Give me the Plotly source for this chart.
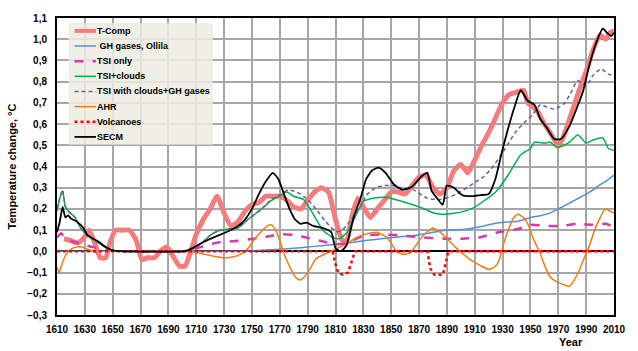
import plotly.graph_objects as go

# ---------------- data ----------------
TCOMP_YEARS = [1615, 1620, 1625, 1630, 1633, 1637, 1641, 1645, 1648, 1652, 1657, 1662, 1667, 1671, 1675,
               1680, 1684, 1689, 1694, 1698, 1702, 1706, 1710, 1715, 1720, 1725, 1730, 1735, 1740, 1745,
               1750, 1755, 1760, 1765, 1770, 1775, 1780, 1785, 1790, 1795, 1800, 1805, 1810, 1815, 1818,
               1822, 1826, 1830, 1835, 1840, 1845, 1850, 1855, 1860, 1865, 1870, 1875, 1880, 1885, 1890,
               1895, 1900, 1905, 1910, 1915, 1920, 1925, 1930, 1935, 1940, 1945, 1948, 1952, 1955, 1960,
               1965, 1970, 1973, 1980, 1985, 1990, 1995, 2000, 2004, 2007, 2010]
TCOMP_VALUES = [0.06, 0.05, 0.04, 0.07, 0.10, 0.04, -0.03, -0.03, 0.04, 0.10, 0.10, 0.10, 0.05, -0.04, -0.03,
                -0.03, 0.00, 0.02, -0.03, -0.07, -0.07, 0.00, 0.08, 0.15, 0.20, 0.26, 0.18, 0.12, 0.14, 0.19,
                0.22, 0.23, 0.26, 0.26, 0.26, 0.24, 0.21, 0.20, 0.24, 0.28, 0.30, 0.28, 0.15, 0.05, 0.05,
                0.17, 0.25, 0.21, 0.16, 0.20, 0.24, 0.28, 0.28, 0.27, 0.31, 0.35, 0.36, 0.30, 0.27, 0.30,
                0.38, 0.41, 0.37, 0.43, 0.50, 0.56, 0.63, 0.70, 0.74, 0.75, 0.76, 0.70, 0.68, 0.66, 0.60,
                0.55, 0.50, 0.53, 0.66, 0.76, 0.85, 0.95, 1.02, 1.00, 1.03, 1.04]

GH_YEARS = [1610, 1740, 1750, 1760, 1770, 1780, 1790, 1800, 1810, 1820, 1830, 1843, 1855, 1866, 1878, 1889,
            1901, 1913, 1927, 1941, 1950, 1957, 1964, 1970, 1976, 1983, 1990, 1995, 1999, 2005, 2010]
GH_VALUES = [0.0, 0.0, 0.002, 0.006, 0.01, 0.015, 0.02, 0.027, 0.033, 0.04, 0.05, 0.06, 0.068, 0.075, 0.087, 0.10,
             0.103, 0.115, 0.135, 0.142, 0.16, 0.168, 0.18, 0.20, 0.22, 0.245, 0.27, 0.29, 0.31, 0.335, 0.36]

TSI_YEARS = [1610, 1613, 1616, 1620, 1627, 1636, 1646, 1652, 1700, 1706, 1713, 1718, 1724, 1732, 1740, 1750,
             1757, 1765, 1771, 1780, 1789, 1799, 1808, 1813, 1819, 1825, 1831, 1843, 1857, 1873, 1889, 1901,
             1913, 1927, 1941, 1950, 1957, 1964, 1973, 1983, 1994, 2004, 2010]
TSI_VALUES = [0.065, 0.085, 0.06, 0.05, 0.035, 0.02, 0.008, 0.002, 0.0, 0.005, 0.02, 0.028, 0.04, 0.045, 0.05, 0.058,
              0.065, 0.075, 0.08, 0.078, 0.065, 0.05, 0.035, 0.033, 0.04, 0.06, 0.075, 0.08, 0.075, 0.065, 0.06, 0.06,
              0.065, 0.09, 0.105, 0.125, 0.123, 0.12, 0.12, 0.13, 0.125, 0.13, 0.115]

CLOUDS_YEARS = [1610, 1612, 1614, 1616, 1618, 1623, 1627, 1631, 1635, 1641, 1647, 1652, 1700, 1705, 1710, 1715,
                1720, 1725, 1733, 1740, 1747, 1757, 1764, 1771, 1775, 1780, 1787, 1794, 1801, 1808, 1813, 1819,
                1824, 1830, 1837, 1846, 1858, 1872, 1881, 1888, 1900, 1909, 1916, 1925, 1934, 1943, 1950, 1953,
                1960, 1964, 1969, 1974, 1978, 1984, 1990, 1995, 2002, 2006, 2010]
CLOUDS_VALUES = [0.19, 0.25, 0.285, 0.21, 0.19, 0.16, 0.11, 0.08, 0.06, 0.035, 0.01, 0.002, 0.0, 0.005, 0.02, 0.045,
                 0.075, 0.095, 0.105, 0.11, 0.15, 0.20, 0.24, 0.265, 0.28, 0.26, 0.245, 0.175, 0.10, 0.065, 0.06, 0.095,
                 0.16, 0.235, 0.25, 0.255, 0.235, 0.205, 0.18, 0.175, 0.185, 0.205, 0.235, 0.28, 0.36, 0.455, 0.485, 0.515,
                 0.51, 0.515, 0.49, 0.50, 0.515, 0.55, 0.51, 0.525, 0.535, 0.485, 0.475]

CLOUDS_GH_YEARS = [1610, 1612, 1614, 1616, 1618, 1623, 1627, 1631, 1635, 1641, 1647, 1652, 1700, 1705, 1710, 1715,
                   1720, 1725, 1733, 1740, 1747, 1757, 1764, 1771, 1776, 1782, 1789, 1796, 1803, 1810, 1814, 1819,
                   1826, 1833, 1839, 1845, 1851, 1857, 1866, 1876, 1886, 1897, 1909, 1916, 1922, 1932, 1939, 1946,
                   1951, 1957, 1962, 1967, 1974, 1978, 1984, 1990, 1995, 2001, 2006, 2010]
CLOUDS_GH_VALUES = [0.20, 0.25, 0.29, 0.21, 0.19, 0.16, 0.11, 0.08, 0.06, 0.035, 0.01, 0.002, 0.0, 0.005, 0.02, 0.045,
                    0.075, 0.095, 0.105, 0.11, 0.15, 0.20, 0.245, 0.27, 0.29, 0.28, 0.25, 0.20, 0.14, 0.095, 0.095, 0.13,
                    0.19, 0.27, 0.30, 0.31, 0.31, 0.30, 0.29, 0.25, 0.245, 0.27, 0.32, 0.35, 0.39, 0.485, 0.56, 0.61,
                    0.64, 0.69, 0.68, 0.67, 0.695, 0.735, 0.805, 0.78, 0.83, 0.86, 0.835, 0.83]

AHR_YEARS = [1610, 1611.5, 1613, 1616, 1620, 1624, 1628, 1632, 1636, 1640, 1700, 1710, 1720, 1729, 1737, 1743,
             1748, 1752, 1757, 1761, 1764, 1767, 1770, 1773, 1777, 1781, 1784, 1787, 1791, 1796, 1803, 1810,
             1819, 1825, 1831, 1840, 1847, 1854, 1859, 1864, 1869, 1873, 1880, 1887, 1896, 1902, 1908, 1915,
             1920, 1924, 1927, 1931, 1934, 1938, 1941, 1945, 1948, 1952, 1957, 1961, 1964, 1968, 1971, 1975,
             1978, 1981, 1985, 1988, 1992, 1996, 1999, 2002, 2004, 2007, 2010]
AHR_VALUES = [-0.075, -0.10, -0.07, -0.02, 0.01, 0.02, 0.02, 0.01, 0.0, 0.0, 0.0, -0.005, -0.02, -0.03, -0.025, -0.01,
              0.02, 0.06, 0.095, 0.12, 0.125, 0.10, 0.05, -0.01, -0.07, -0.12, -0.135, -0.125, -0.09, -0.035, -0.01, 0.01,
              0.04, 0.065, 0.08, 0.09, 0.065, 0.0, -0.015, -0.005, 0.04, 0.075, 0.11, 0.08, 0.02, -0.015, -0.045, -0.07,
              -0.085, -0.075, -0.05, 0.04, 0.10, 0.16, 0.175, 0.16, 0.13, 0.06, -0.01, -0.08, -0.12, -0.14, -0.15, -0.16,
              -0.165, -0.14, -0.09, -0.04, 0.02, 0.10, 0.145, 0.185, 0.20, 0.19, 0.18]

VOLC_YEARS = [1610, 1808, 1810, 1812, 1815, 1819, 1822, 1824, 1876, 1878, 1881, 1887, 1889, 1891, 2010]
VOLC_VALUES = [0.0, 0.0, -0.06, -0.10, -0.11, -0.10, -0.04, 0.0, 0.0, -0.08, -0.11, -0.11, -0.06, 0.0, 0.0]

SECM_YEARS = [1610, 1612, 1614, 1616, 1618, 1620, 1623, 1626, 1629, 1632, 1636, 1640, 1644, 1648, 1652, 1660,
              1700, 1704, 1710, 1717, 1724, 1733, 1740, 1745, 1750, 1755, 1760, 1765, 1769, 1773, 1777, 1781,
              1785, 1789, 1794, 1801, 1807, 1810, 1814, 1818, 1823, 1828, 1832, 1836, 1841, 1846, 1852, 1858,
              1865, 1872, 1876, 1879, 1883, 1887, 1890, 1895, 1901, 1907, 1914, 1920, 1925, 1929, 1934, 1939,
              1943, 1948, 1953, 1957, 1962, 1967, 1972, 1978, 1983, 1988, 1992, 1997, 2002, 2005, 2008, 2010]
SECM_VALUES = [0.09, 0.14, 0.21, 0.16, 0.17, 0.155, 0.145, 0.13, 0.11, 0.075, 0.06, 0.045, 0.025, 0.01, 0.002, 0.0,
               0.0, 0.005, 0.025, 0.05, 0.07, 0.095, 0.12, 0.15, 0.20, 0.27, 0.33, 0.37, 0.34, 0.27, 0.20, 0.15,
               0.13, 0.135, 0.12, 0.11, 0.09, 0.015, 0.0, 0.03, 0.16, 0.25, 0.34, 0.38, 0.395, 0.37, 0.315, 0.29,
               0.305, 0.355, 0.37, 0.285, 0.25, 0.22, 0.31, 0.30, 0.265, 0.26, 0.265, 0.27, 0.345, 0.455, 0.58, 0.69,
               0.76, 0.71, 0.69, 0.625, 0.58, 0.53, 0.53, 0.59, 0.67, 0.76, 0.87, 0.98, 1.05, 1.03, 1.015, 1.03]

SERIES_NAMES = ["T-Comp", " GH gases, Ollila", "TSI only", "TSI+clouds", "TSI with clouds+GH gases",
                "AHR", "Volcanoes", "SECM"]
X_TICKS = list(range(1610, 2011, 20))
Y_TICKS = [round(-0.3 + 0.1 * i, 1) for i in range(15)]

# ---------------- figure ----------------
FONT = "Liberation Sans, Arial, sans-serif"
W, H = 638, 351
ML, MR, MT, MB = 52, 14, 15, 36
PW, PH = W - ML - MR, H - MT - MB

def px_x(p):
    return (p - ML) / PW

def px_y(p):
    return 1 - (p - MT) / PH

fig = go.Figure()

series = [
    (TCOMP_YEARS, TCOMP_VALUES, dict(color="#F47C7C", width=5), "spline"),
    (GH_YEARS, GH_VALUES, dict(color="#558ED5", width=1.5), "spline"),
    (TSI_YEARS, TSI_VALUES, dict(color="#D93AAA", width=2.5, dash="dash"), "spline"),
    (CLOUDS_YEARS, CLOUDS_VALUES, dict(color="#00B050", width=1.5), "spline"),
    (CLOUDS_GH_YEARS, CLOUDS_GH_VALUES, dict(color="#6E5E9E", width=1.5, dash="4px,3px"), "spline"),
    (AHR_YEARS, AHR_VALUES, dict(color="#F07D12", width=1.5), "spline"),
    (VOLC_YEARS, VOLC_VALUES, dict(color="#FF0000", width=2.5, dash="dot"), "linear"),
    (SECM_YEARS, SECM_VALUES, dict(color="#000000", width=1.8), "spline"),
]
for name, (xs, ys, line, shape) in zip(SERIES_NAMES, series):
    ln = dict(line)
    ln["shape"] = shape
    if shape == "spline":
        ln["smoothing"] = 0.5
    fig.add_trace(go.Scatter(x=xs, y=ys, mode="lines", name=name, line=ln, showlegend=False))

# ---- compact legend (box, line samples, labels) like the Excel original ----
shapes = [dict(type="rect", xref="paper", yref="paper", x0=px_x(64), x1=px_x(212),
               y0=px_y(143), y1=px_y(20), fillcolor="rgba(238,236,225,0.86)",
               line=dict(width=0), layer="above")]
annotations = []
for i, (name, (_, _, line, _)) in enumerate(zip(SERIES_NAMES, series)):
    yc = px_y(28 + i * 15.3)
    lw = min(line["width"], 4)
    shapes.append(dict(type="line", xref="paper", yref="paper", x0=px_x(70), x1=px_x(92),
                       y0=yc, y1=yc, layer="above",
                       line=dict(color=line["color"], width=lw, dash=line.get("dash", "solid"))))
    label = ("&nbsp;" + name[1:]) if name.startswith(" ") else name
    annotations.append(dict(text=label, xref="paper", yref="paper", x=px_x(91.5), y=yc,
                            xanchor="left", yanchor="middle", showarrow=False,
                            font=dict(family=FONT, size=9, color="#000000", weight="bold")))

annotations.append(dict(text="Year", xref="paper", yref="paper", x=px_x(580), y=-0.09,
                        xanchor="center", yanchor="middle", showarrow=False,
                        font=dict(family=FONT, size=11, color="#000000", weight="bold")))

fig.update_layout(
    width=W, height=H,
    margin=dict(l=ML, r=MR, t=MT, b=MB),
    paper_bgcolor="white", plot_bgcolor="white",
    separators=", ",
    font=dict(family=FONT, size=10, color="#000000"),
    showlegend=False,
    shapes=shapes, annotations=annotations,
)
fig.update_xaxes(
    range=[1610, 2010], tickvals=X_TICKS, ticktext=[str(v) for v in X_TICKS],
    showgrid=True, gridcolor="#A6A6A6", gridwidth=1.5,
    showline=True, linecolor="#000000", linewidth=2, mirror=True,
    zeroline=False, ticks="", ticklabelstandoff=4,
    tickfont=dict(family=FONT, size=10, color="#000000", weight="bold"),
)
fig.update_yaxes(
    range=[-0.3, 1.1], tickvals=Y_TICKS, tickformat=".1f",
    showgrid=True, gridcolor="#A6A6A6", gridwidth=1.5,
    showline=True, linecolor="#000000", linewidth=2, mirror=True,
    zeroline=True, zerolinecolor="#000000", zerolinewidth=2,
    ticks="", ticklabelstandoff=6,
    tickfont=dict(family=FONT, size=10, color="#000000", weight="bold"),
    title=dict(text="Temperature change, °C", standoff=8,
               font=dict(family=FONT, size=11, color="#000000", weight="bold")),
)

fig.write_html("out.html")
